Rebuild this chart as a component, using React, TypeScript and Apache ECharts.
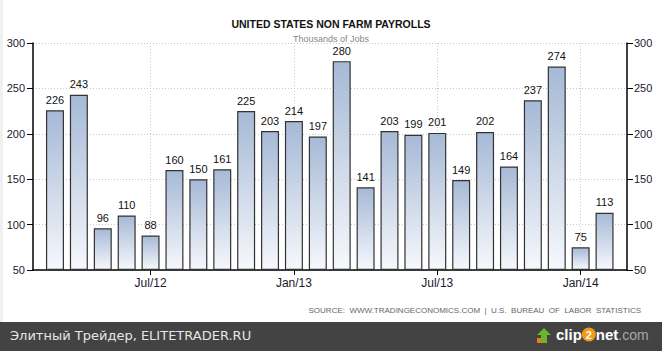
import React, { useEffect, useRef } from "react";
import * as echarts from "echarts";

const categories = [
  "Mar/12", "Apr/12", "May/12", "Jun/12", "Jul/12", "Aug/12", "Sep/12", "Oct/12",
  "Nov/12", "Dec/12", "Jan/13", "Feb/13", "Mar/13", "Apr/13", "May/13", "Jun/13",
  "Jul/13", "Aug/13", "Sep/13", "Oct/13", "Nov/13", "Dec/13", "Jan/14", "Feb/14",
];
const payrolls = [
  226, 243, 96, 110, 88, 160, 150, 161, 225, 203, 214, 197,
  280, 141, 203, 199, 201, 149, 202, 164, 237, 274, 75, 113,
];
const tickLabels = ["Jul/12", "Jan/13", "Jul/13", "Jan/14"];
const yTicks = [50, 100, 150, 200, 250, 300];

const TITLE = "UNITED STATES NON FARM PAYROLLS";
const SUBTITLE = "Thousands of Jobs";
const SOURCE = "SOURCE:  WWW.TRADINGECONOMICS.COM  |  U.S.  BUREAU  OF  LABOR  STATISTICS";
const WATERMARK = "Элитный Трейдер, ELITETRADER.RU";

const FONT = "'Liberation Sans', Arial, sans-serif";

export default function App() {
  const ref = useRef<HTMLDivElement>(null);
  useEffect(() => {
    if (!ref.current) return;
    const chart = echarts.init(ref.current, undefined, { renderer: "svg" });
    const tickIdx = tickLabels.map((l) => categories.indexOf(l));
    const yMin = yTicks[0];
    const yMax = yTicks[yTicks.length - 1];
    const yInterval = yTicks[1] - yTicks[0];
    const axisLabelStyle = { color: "#1a1a2e", fontSize: 11, fontFamily: FONT };
    chart.setOption({
      animation: false,
      backgroundColor: "#ffffff",
      grid: { left: 33, right: 35, top: 43, bottom: 81, containLabel: false },
      title: [
        {
          text: TITLE,
          left: "center",
          top: 13,
          textStyle: { fontSize: 10.5, fontWeight: "bold", color: "#111", fontFamily: FONT },
        },
        {
          text: SUBTITLE,
          left: "center",
          top: 29,
          textStyle: { fontSize: 9, fontWeight: "normal", color: "#8a8590", fontFamily: FONT },
        },
      ],
      xAxis: {
        type: "value",
        min: -0.92,
        max: categories.length - 1 + 0.94,
        axisLine: { show: true, onZero: false, lineStyle: { color: "#000", width: 1.5 } },
        axisTick: { show: true, customValues: tickIdx, length: 5, lineStyle: { color: "#000" } },
        axisLabel: {
          customValues: tickIdx,
          formatter: (v: number) => categories[Math.round(v)] ?? "",
          color: "#1a1a2e",
          fontSize: 12,
          fontFamily: FONT,
          margin: 7,
        },
        splitLine: { show: true, lineStyle: { color: "#c8c8c8", type: [1, 2] } },
      },
      yAxis: [
        {
          type: "value",
          position: "left",
          min: yMin,
          max: yMax,
          interval: yInterval,
          startValue: yMin,
          axisLine: { show: true, onZero: false, lineStyle: { color: "#000", width: 1.5 } },
          axisTick: { show: true, length: 6, lineStyle: { color: "#000" } },
          axisLabel: { ...axisLabelStyle, margin: 8 },
          splitLine: { show: true, lineStyle: { color: "#c8c8c8", type: [1, 2] } },
        },
        {
          type: "value",
          position: "right",
          min: yMin,
          max: yMax,
          interval: yInterval,
          axisLine: { show: true, onZero: false, lineStyle: { color: "#000", width: 1.5 } },
          axisTick: { show: true, length: 6, lineStyle: { color: "#000" } },
          axisLabel: { ...axisLabelStyle, margin: 7 },
          splitLine: { show: false },
        },
      ],
      series: [
        {
          type: "bar",
          yAxisIndex: 0,
          barWidth: 18,
          data: payrolls.map((v, i) => [i, v]),
          itemStyle: {
            color: new echarts.graphic.LinearGradient(0, 0, 0, 1, [
              { offset: 0, color: "#a6b9d6" },
              { offset: 1, color: "#f6f8fc" },
            ]),
            borderColor: "#333",
            borderWidth: 1.2,
          },
          label: {
            show: true,
            position: "top",
            distance: 5,
            color: "#111",
            fontSize: 11,
            fontFamily: FONT,
          },
        },
      ],
      graphic: [
        { type: "rect", left: 0, top: 0, shape: { width: 3, height: 322 }, style: { fill: "#f0f0f0" }, silent: true },
        {
          type: "text",
          right: 21,
          top: 306,
          style: { text: SOURCE, fill: "#666", fontSize: 8, fontFamily: FONT },
        },
        { type: "rect", left: 0, top: 322, shape: { width: 662, height: 29 }, style: { fill: "#434343" } },
        {
          type: "text",
          left: 10,
          top: 329,
          style: { text: WATERMARK, fill: "#e6e6e6", fontSize: 13, fontFamily: "'DejaVu Sans', sans-serif" },
        },
        {
          type: "group",
          left: 537,
          top: 327,
          children: [
            { type: "rect", shape: { x: 1, y: 11, width: 9, height: 5 }, style: { fill: "#f07a10" } },
            {
              type: "polygon",
              shape: { points: [[8, 1], [15, 8], [11, 8], [11, 16], [5, 16], [5, 8], [1, 8]] },
              style: { fill: "#6cb42a" },
            },
            {
              type: "text",
              x: 20,
              y: 0,
              style: {
                text: "{a|clip}{b|2}{a|net}{c|.com}",
                rich: {
                  a: { fill: "#ffffff", fontSize: 15, fontWeight: "bold", fontFamily: "'Liberation Sans', Arial" },
                  b: {
                    fill: "#ffffff",
                    fontSize: 11,
                    fontWeight: "bold",
                    backgroundColor: "#f29a1a",
                    borderRadius: 7,
                    width: 14,
                    height: 14,
                    align: "center",
                    fontFamily: "'Liberation Sans', Arial",
                  },
                  c: { fill: "#a8a8a8", fontSize: 14, fontFamily: "'Liberation Sans', Arial" },
                },
              },
            },
          ],
        },
      ],
    });
    return () => chart.dispose();
  }, []);
  return <div ref={ref} style={{ width: 662, height: 351, position: "absolute", left: 0, top: 0 }} />;
}
